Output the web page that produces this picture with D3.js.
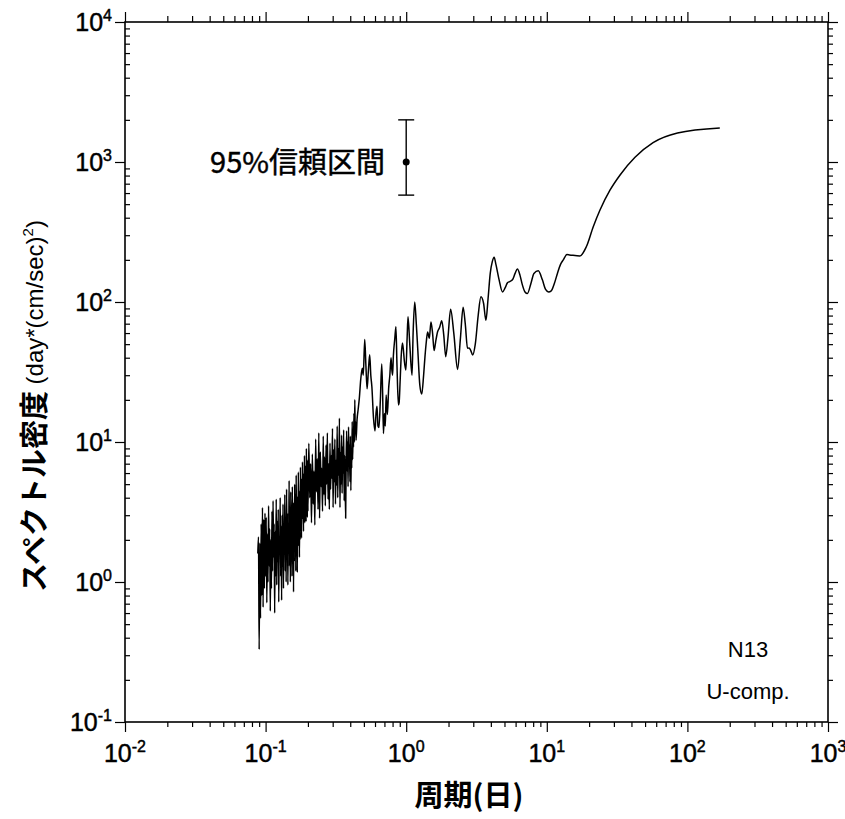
<!DOCTYPE html>
<html>
<head>
<meta charset="utf-8">
<script src="https://cdn.jsdelivr.net/npm/d3@7"></script>
<style>
  body { margin: 0; background: #fff; }
  text { font-family: "Liberation Sans", Arial, sans-serif; fill: #000; }
  .jp { font-family: "Noto Sans CJK JP", "Noto Sans", sans-serif; }
  .heavy { stroke: #000; stroke-width: 0.45; }
</style>
</head>
<body>
<svg id="chart" width="845" height="819"></svg>
<script>
// Axis decades
const xMajor = [1e-2, 1e-1, 1e0, 1e1, 1e2, 1e3];
const yMajor = [1e-1, 1e0, 1e1, 1e2, 1e3, 1e4];

// Spectrum, period (days) and power density
const period = [
  0.088, 0.089, 0.090, 0.091, 0.092, 0.093, 0.094, 0.095, 0.096, 0.097, 0.098, 0.099,
  0.100, 0.101, 0.102, 0.103, 0.104, 0.105, 0.106, 0.107, 0.108, 0.109,
  0.110, 0.111, 0.112, 0.113, 0.114, 0.115, 0.116, 0.117, 0.118, 0.119,
  0.120, 0.121, 0.122, 0.123, 0.124, 0.125, 0.126, 0.127, 0.128, 0.129,
  0.130, 0.131, 0.132, 0.133, 0.134, 0.135, 0.136, 0.137, 0.138, 0.139,
  0.140, 0.141, 0.142, 0.143, 0.144, 0.145, 0.146, 0.147, 0.148, 0.149,
  0.150, 0.151, 0.152, 0.153, 0.154, 0.155, 0.156, 0.157, 0.158, 0.159,
  0.160, 0.161, 0.162, 0.163, 0.164, 0.165, 0.166, 0.167, 0.168, 0.169,
  0.170, 0.171, 0.172, 0.173, 0.174, 0.175, 0.176, 0.177, 0.178, 0.179,
  0.180, 0.181, 0.182, 0.183, 0.184, 0.185, 0.186, 0.187, 0.188, 0.189,
  0.190, 0.191, 0.192, 0.193, 0.194, 0.195, 0.196, 0.197, 0.198, 0.199,
  0.200, 0.203, 0.206, 0.209, 0.212, 0.215, 0.218, 0.221, 0.224, 0.227,
  0.230, 0.233, 0.236, 0.239, 0.242, 0.245, 0.248, 0.251, 0.254, 0.257,
  0.260, 0.263, 0.266, 0.269, 0.272, 0.275, 0.278, 0.281, 0.284, 0.287,
  0.290, 0.293, 0.296, 0.299, 0.302, 0.305, 0.308, 0.311, 0.314, 0.317,
  0.320, 0.323, 0.326, 0.329, 0.332, 0.335, 0.338, 0.341, 0.344, 0.347,
  0.350, 0.353, 0.356, 0.359, 0.362, 0.365, 0.368, 0.371, 0.374, 0.377,
  0.380, 0.383, 0.386, 0.389, 0.392, 0.395, 0.398, 0.401, 0.404, 0.407,
  0.410, 0.413, 0.416, 0.419, 0.422, 0.425, 0.428, 0.431, 0.434, 0.437, 0.440,
  0.447, 0.455, 0.464, 0.475, 0.487, 0.495, 0.507, 0.517, 0.527, 0.538,
  0.550, 0.560, 0.570, 0.585, 0.600, 0.610, 0.620, 0.630, 0.640, 0.655,
  0.670, 0.680, 0.689, 0.700, 0.710, 0.720, 0.735, 0.750, 0.765, 0.780,
  0.790, 0.800, 0.810, 0.830, 0.845, 0.860, 0.880, 0.890, 0.906, 0.920,
  0.940, 0.956, 0.970, 0.995, 1.015, 1.03, 1.06, 1.10, 1.12, 1.15,
  1.18, 1.21, 1.25, 1.29, 1.33, 1.36, 1.39, 1.42, 1.46, 1.50,
  1.54, 1.58, 1.62, 1.67, 1.73, 1.79, 1.85, 1.91, 1.98, 2.07,
  2.18, 2.32, 2.43, 2.54, 2.63, 2.73, 2.80, 2.88, 2.97, 3.10,
  3.25, 3.40, 3.55, 3.69, 3.82, 3.96, 4.10, 4.22, 4.35, 4.58,
  4.84, 5.05, 5.25, 5.45, 5.70, 5.95, 6.18, 6.45, 6.71, 7.00,
  7.28, 7.70, 8.10, 8.70, 9.30, 9.80, 10.3, 10.75, 11.3, 11.9,
  12.5, 13.1, 13.9, 14.5, 17.2, 19.1, 21.4, 23.9, 28.2, 33.2,
  42.4, 57, 85, 170
];
const psd = [
  1.6, 2.1, 0.33, 1.9, 0.55, 2.6, 0.8, 3.4, 0.66, 2.8, 0.9, 3.1,
  1.1, 2.9, 0.71, 2.2, 1.0, 3.5, 1.3, 2.4, 0.62, 2.0,
  0.9, 3.2, 1.2, 3.8, 1.5, 2.6, 0.6, 2.3, 1.1, 3.9,
  0.95, 2.7, 1.4, 3.3, 0.72, 2.1, 1.6, 4.0, 1.1, 2.5,
  0.74, 3.0, 1.3, 3.6, 0.9, 2.4, 1.7, 4.2, 1.2, 2.8,
  1.0, 4.6, 1.5, 3.1, 0.95, 2.6, 1.8, 5.3, 1.3, 3.4,
  1.0, 4.4, 2.0, 3.0, 1.1, 4.8, 1.6, 3.7, 0.85, 2.9,
  1.4, 5.0, 1.9, 3.5, 1.2, 5.8, 2.2, 4.1, 1.17, 3.2,
  1.8, 6.1, 2.4, 4.5, 1.5, 3.8, 2.0, 6.6, 2.6, 4.3,
  2.06, 5.5, 2.8, 7.2, 3.0, 4.6, 2.3, 6.0, 3.3, 8.0,
  2.65, 5.2, 3.6, 6.8, 2.7, 9.0, 3.9, 5.6, 2.9, 7.4,
  3.2, 9.8, 4.0, 7.0, 2.65, 8.2, 3.6, 6.2, 2.55, 10.5,
  4.4, 7.6, 3.3, 11.6, 2.85, 8.5, 4.8, 6.5, 3.2, 11.0,
  4.2, 7.8, 3.5, 9.5, 5.0, 11.6, 3.9, 7.0, 3.3, 9.8,
  4.6, 8.0, 5.5, 12.5, 3.4, 8.8, 5.2, 10.5, 3.6, 7.4,
  4.9, 13.0, 4.0, 9.0, 5.8, 14.8, 3.4, 8.4, 5.0, 11.2,
  4.3, 9.2, 6.0, 12.2, 3.8, 8.0, 5.4, 2.85, 7.5, 12.0,
  6.2, 10.0, 4.8, 12.8, 6.8, 9.5, 5.2, 11.0, 4.5, 9.0,
  6.5, 14.0, 7.5, 12.0, 9.2, 16.0, 10.0, 20.0, 11.5, 14.0, 10.3,
  14.4, 17, 20.5, 28, 33.6, 30, 54, 35, 24, 32,
  42, 30, 24.8, 15, 12, 16, 18, 13, 12.7, 20,
  36, 22, 11.5, 16, 13, 21.7, 15.7, 24, 30, 40,
  33, 30, 40.7, 55, 66.6, 35, 18.4, 19, 27.7, 40,
  51, 45, 38, 32.7, 55, 78.5, 50, 30, 60, 100,
  70, 45, 25.5, 22, 30, 40.7, 52, 61, 55, 72,
  60, 45, 52, 61, 66, 73.5, 58, 40.7, 55, 88.7,
  60, 33, 55, 91.6, 70, 46.7, 47, 45, 41.8, 50,
  80, 109, 98, 74, 105, 160, 195, 209, 185, 144,
  118, 126, 137, 140, 144, 160, 172, 155, 132, 118,
  115, 135, 160, 167, 144, 123, 118, 120, 135, 160,
  185, 200, 218, 217, 213, 248, 345, 454, 631, 808,
  1080, 1374, 1610, 1750
];

// 95% confidence interval marker
const ciPeriod = 1;
const ciCenter = 1000;
const ciLow = 580;
const ciHigh = 2000;

const svg = d3.select('#chart');

const x = d3.scaleLog().domain([1e-2, 1e3]).range([125, 828]);
const y = d3.scaleLog().domain([1e-1, 1e4]).range([722, 22]);

const isMajor = v => Math.abs(Math.log10(v) - Math.round(Math.log10(v))) < 1e-9;
const xMinor = x.ticks().filter(v => !isMajor(v));
const yMinor = y.ticks().filter(v => !isMajor(v));

function styleAxis(g) {
    g.select('.domain').remove();
    g.selectAll('line').attr('stroke', '#000').attr('stroke-width', 1.2);
}

// bottom
svg.append('g').attr('transform', 'translate(0,722)')
    .call(d3.axisBottom(x).tickValues(xMajor).tickSize(10).tickFormat(''))
    .call(styleAxis);
svg.append('g').attr('transform', 'translate(0,722)')
    .call(d3.axisBottom(x).tickValues(xMinor).tickSize(5).tickFormat(''))
    .call(styleAxis);
// top
svg.append('g').attr('transform', 'translate(0,22)')
    .call(d3.axisTop(x).tickValues(xMajor).tickSize(10).tickFormat(''))
    .call(styleAxis);
svg.append('g').attr('transform', 'translate(0,22)')
    .call(d3.axisTop(x).tickValues(xMinor).tickSize(6).tickFormat(''))
    .call(styleAxis);
// left
svg.append('g').attr('transform', 'translate(125,0)')
    .call(d3.axisLeft(y).tickValues(yMajor).tickSize(10).tickFormat(''))
    .call(styleAxis);
svg.append('g').attr('transform', 'translate(125,0)')
    .call(d3.axisLeft(y).tickValues(yMinor).tickSize(-5).tickFormat(''))
    .call(styleAxis);
// right
svg.append('g').attr('transform', 'translate(828,0)')
    .call(d3.axisRight(y).tickValues(yMajor).tickSize(10).tickFormat(''))
    .call(styleAxis);
svg.append('g').attr('transform', 'translate(828,0)')
    .call(d3.axisRight(y).tickValues(yMinor).tickSize(5).tickFormat(''))
    .call(styleAxis);

// frame
svg.append('rect')
    .attr('x', x(1e-2)).attr('y', y(1e4))
    .attr('width', x(1e3) - x(1e-2)).attr('height', y(1e-1) - y(1e4))
    .attr('fill', 'none').attr('stroke', '#000').attr('stroke-width', 1.6);

// tick labels: 10 with superscript exponent
function powLabel(sel) {
    sel.append('tspan').text('10');
    sel.append('tspan')
        .attr('font-size', 16)
        .attr('dy', -10)
        .text(d => Math.round(Math.log10(d)));
}
svg.append('g').selectAll('text')
    .data(xMajor).enter().append('text')
    .attr('class', 'heavy')
    .attr('x', d => x(d))
    .attr('y', 762)
    .attr('text-anchor', 'middle')
    .attr('font-size', 25)
    .call(powLabel);
svg.append('g').selectAll('text')
    .data(yMajor).enter().append('text')
    .attr('class', 'heavy')
    .attr('x', 112)
    .attr('y', d => y(d) + 9)
    .attr('text-anchor', 'end')
    .attr('font-size', 25)
    .call(powLabel);

// spectrum
const pts = period.map((p, i) => [p, psd[i]]);
const line = d3.line()
    .x(d => x(d[0]))
    .y(d => y(d[1]))
    .curve(d3.curveMonotoneX);
svg.append('path')
    .datum(pts)
    .attr('d', line)
    .attr('fill', 'none')
    .attr('stroke', '#000')
    .attr('stroke-width', 1.5)
    .attr('stroke-linejoin', 'round');

// confidence interval
const cx = x(ciPeriod);
svg.append('line')
    .attr('x1', cx).attr('x2', cx)
    .attr('y1', y(ciLow)).attr('y2', y(ciHigh))
    .attr('stroke', '#000').attr('stroke-width', 1.4);
[ciLow, ciHigh].forEach(v => {
    svg.append('line')
        .attr('x1', cx - 8).attr('x2', cx + 8)
        .attr('y1', y(v)).attr('y2', y(v))
        .attr('stroke', '#000').attr('stroke-width', 1.4);
});
svg.append('circle')
    .attr('cx', cx).attr('cy', y(ciCenter)).attr('r', 3.5)
    .attr('fill', '#000');
svg.append('text')
    .attr('class', 'jp heavy')
    .attr('x', 385).attr('y', y(ciCenter) + 11)
    .attr('text-anchor', 'end')
    .attr('font-size', 29)
    .text('95%信頼区間');

// station labels
svg.append('text')
    .attr('x', 748).attr('y', 657)
    .attr('text-anchor', 'middle')
    .attr('font-size', 22)
    .text('N13');
svg.append('text')
    .attr('x', 748).attr('y', 699)
    .attr('text-anchor', 'middle')
    .attr('font-size', 22)
    .text('U-comp.');

// axis titles
svg.append('text')
    .attr('class', 'jp')
    .attr('x', 469).attr('y', 806)
    .attr('text-anchor', 'middle')
    .attr('font-size', 29)
    .attr('font-weight', 'bold')
    .text('周期(日)');

const yTitle = svg.append('text')
    .attr('transform', 'translate(45,592) rotate(-90)')
    .attr('text-anchor', 'start');
yTitle.append('tspan')
    .attr('class', 'jp')
    .attr('font-size', 29)
    .attr('font-weight', 'bold')
    .text('スペクトル密度 ');
yTitle.append('tspan')
    .attr('font-size', 24)
    .attr('dy', -2)
    .text('(day*(cm/sec)');
yTitle.append('tspan')
    .attr('font-size', 15)
    .attr('dy', -10)
    .text('2');
yTitle.append('tspan')
    .attr('font-size', 24)
    .attr('dy', 10)
    .text(')');
</script>
</body>
</html>
